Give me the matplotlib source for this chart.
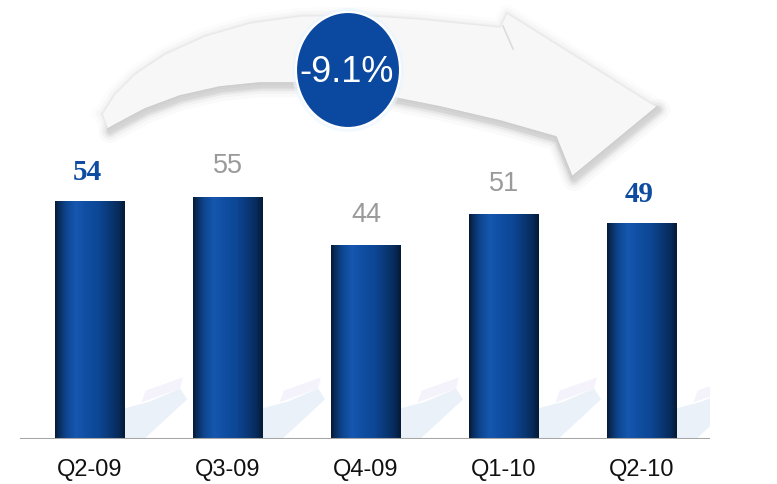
import numpy as np
import matplotlib
matplotlib.use("Agg")
import matplotlib.pyplot as plt
from matplotlib.patches import Polygon, Ellipse
from matplotlib.colors import LinearSegmentedColormap

# ---- data ----
categories = ["Q2-09", "Q3-09", "Q4-09", "Q1-10", "Q2-10"]
values = [54, 55, 44, 51, 49]
highlight = [True, False, False, False, True]
change_label = "-9.1%"

W, H = 777, 485
fig = plt.figure(figsize=(W / 100, H / 100), dpi=100)
fig.patch.set_facecolor("white")

# ---- decoration overlay (pixel coords) ----
ov = fig.add_axes([0, 0, 1, 1], zorder=0)
ov.set_xlim(0, W)
ov.set_ylim(H, 0)
ov.axis("off")

top_edge = [(102, 115), (115, 95), (135, 75), (165, 55), (205, 37), (250, 24),
            (300, 17), (360, 16), (420, 20), (480, 26), (500, 28)]
head = [(507, 14), (657, 108), (572, 178), (556, 138)]
bottom_edge = [(500, 122), (440, 108), (400, 100), (350, 90), (300, 84),
               (260, 84), (220, 88), (180, 97), (145, 110), (115, 126), (108, 130)]
outline = top_edge + head + bottom_edge

# soft outer halo around the whole arrow
ox = np.array([p[0] for p in outline] + [outline[0][0]])
oy = np.array([p[1] for p in outline] + [outline[0][1]])
for lw, a in [(12, 0.012), (7, 0.018), (3, 0.025)]:
    ov.plot(ox, oy, color="black", lw=lw, alpha=a, solid_joinstyle="round", zorder=0.4)

arrow_poly = Polygon(outline, closed=True, fc="#f7f7f7", ec="#e9e9e9", lw=1.0, zorder=0.8)
ov.add_patch(arrow_poly)

# shading: darker near the lower/front edges
shade_line = [(108, 130)] + bottom_edge[::-1] + [(556, 138), (572, 178), (657, 108)]
gx, gy = np.meshgrid(np.arange(90, 670), np.arange(0, 190))
px = gx + 0.5
py = gy + 0.5
dmin = np.full(px.shape, 1e9)
for (x1, y1), (x2, y2) in zip(shade_line[:-1], shade_line[1:]):
    dx, dy = x2 - x1, y2 - y1
    t = ((px - x1) * dx + (py - y1) * dy) / (dx * dx + dy * dy)
    t = np.clip(t, 0, 1)
    d = np.hypot(px - (x1 + t * dx), py - (y1 + t * dy))
    dmin = np.minimum(dmin, d)
val = 0.975 - 0.11 * np.exp(-dmin / 18.0) - 0.03 * np.exp(-dmin / 60.0)
img = np.dstack([val, val, val])
im = ov.imshow(img, extent=[90, 670, 190, 0], interpolation="bilinear", zorder=1)
im.set_clip_path(arrow_poly)

# soft shadow below the front edge
sx = np.array([p[0] for p in shade_line])
sy = np.array([p[1] for p in shade_line])
for lw, a in [(16, 0.02), (11, 0.028), (7, 0.038), (4, 0.05)]:
    ov.plot(sx + 2, sy + 3, color="black", lw=lw, alpha=a, solid_capstyle="round",
            solid_joinstyle="round", zorder=0.5)
ov.plot(sx, sy, color="#cdcdcd", lw=1.2, zorder=2, solid_joinstyle="round")
ov.plot([503, 513], [27, 50], color="#dcdcdc", lw=1.2, zorder=2)

# ellipse with percent change
ov.add_patch(Ellipse((348, 71), 112, 124, fc="#eaf6ff", ec="none", alpha=0.6, zorder=3))
ov.add_patch(Ellipse((348, 71), 104, 116, fc="#0b48a0", ec="white", lw=1.5, zorder=4))
ov.text(347, 73, change_label, color="white", fontsize=26, ha="center", va="center",
        family="Liberation Sans", zorder=5)

# ---- bar chart ----
ax = fig.add_axes([20 / W, (H - 440) / H, 690 / W, 440 / H], zorder=1)
ax.patch.set_alpha(0)
x = np.arange(len(categories))
bw = 0.507

cmap = LinearSegmentedColormap.from_list("bar", [
    (0.00, "#051a36"), (0.06, "#0a2d5e"), (0.16, "#0d4690"), (0.30, "#1657b0"),
    (0.45, "#0f4ea2"), (0.62, "#0d4796"), (0.76, "#0a3a7a"), (0.90, "#082c5e"),
    (1.00, "#041a35")])
grad = np.linspace(0, 1, 256).reshape(1, -1)

for i, v in enumerate(values):
    # faint floor reflection
    r = x[i] + bw / 2
    ax.add_patch(Polygon([(r, 0), (r, 7), (r + 0.18, 8.5), (r + 0.40, 11.5),
                          (r + 0.45, 9), (r + 0.14, 0)], closed=True,
                         fc="#dde9f6", ec="none", alpha=0.6, zorder=1))
    ax.add_patch(Polygon([(r + 0.12, 8.3), (r + 0.40, 11.5), (r + 0.42, 14),
                          (r + 0.15, 11)], closed=True,
                         fc="#eeebfa", ec="none", alpha=0.6, zorder=1))
    ax.imshow(grad, cmap=cmap, aspect="auto", interpolation="bilinear",
              extent=[x[i] - bw / 2, x[i] + bw / 2, 0, v], zorder=2)
    if highlight[i]:
        ax.text(x[i] - 0.02, v + 6.9, str(v), ha="center", va="center", fontsize=21,
                fontweight="bold", color="#0d4ca0", family="Liberation Serif", zorder=3)
    else:
        ax.text(x[i], v + 7.2, str(v), ha="center", va="center", fontsize=19.5,
                color="#9a9a9a", family="Liberation Sans", zorder=3)

ax.set_xlim(-0.507, 4.493)
ax.set_ylim(0, 100)
ax.axhline(0, color="#a6a6a6", lw=2.2, zorder=4)
ax.set_xticks(x)
ax.set_xticklabels(categories, fontsize=17, family="Liberation Sans", color="#111111")
ax.tick_params(axis="x", length=0, pad=14)
ax.set_yticks([])
for s in ax.spines.values():
    s.set_visible(False)

fig.savefig("out.png", dpi=100, facecolor="white")
